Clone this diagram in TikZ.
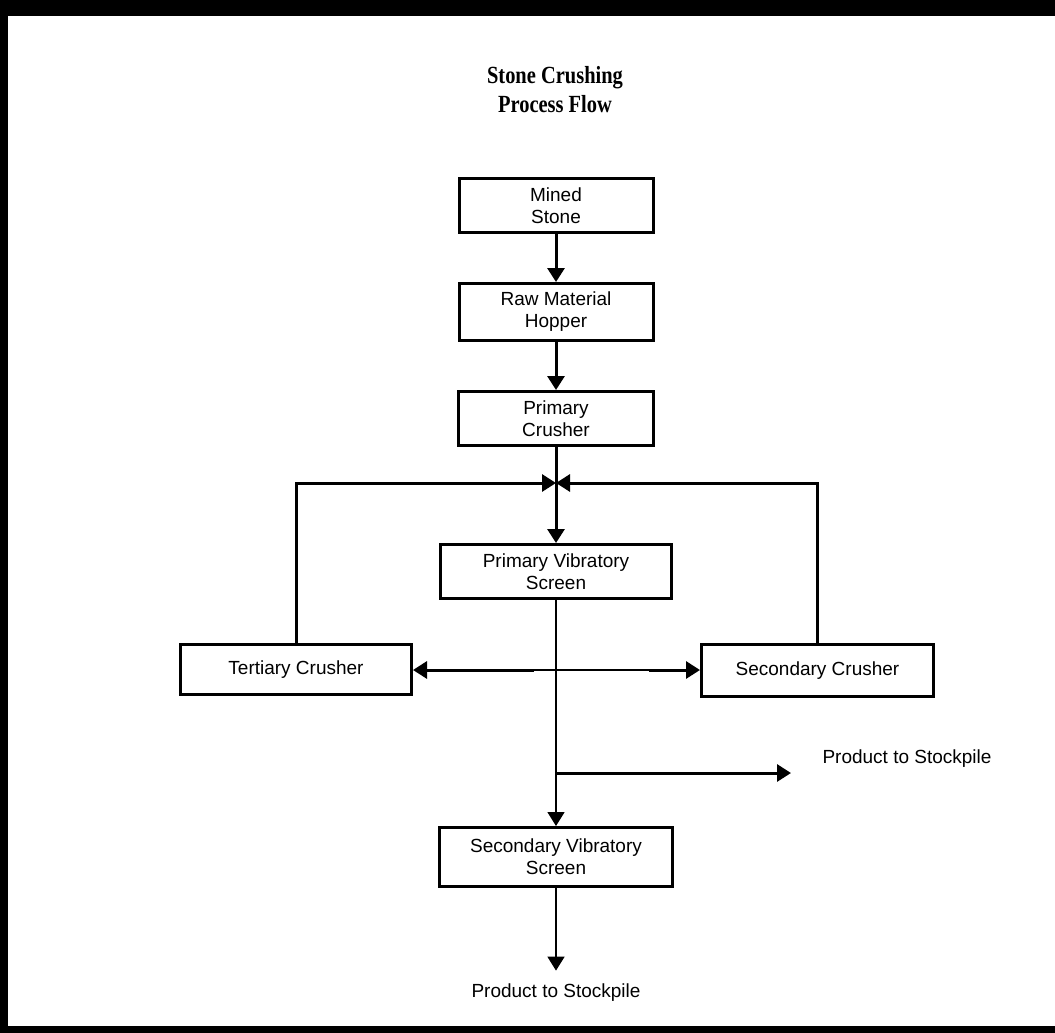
\documentclass[tikz,border=0pt]{standalone}
\usepackage{fontspec}
\setmainfont{Liberation Sans}
\newfontfamily\titlefont{Liberation Serif}
\usetikzlibrary{arrows.meta,positioning}

\begin{document}
\begin{tikzpicture}[x=1pt,y=-1pt,
  box/.style={draw,line width=3pt,align=center,inner sep=0pt,font=\fontsize{19}{22}\selectfont},
  lbl/.style={font=\fontsize{19}{22}\selectfont},
  flow/.style={line width=3pt,-{Triangle[width=17pt,length=14pt]}},
  thinflow/.style={line width=1.6pt,-{Triangle[width=17pt,length=14pt]}}]
\useasboundingbox (0,0) rectangle (1055,1033);
\fill (0,0) rectangle (1055,16);
\fill (0,0) rectangle (8,1033);
\fill (0,1026) rectangle (1055,1033);

\node[align=center,xscale=0.93,yscale=1.12,font=\titlefont\bfseries\fontsize{22}{26}\selectfont] (title) at (555,90) {Stone Crushing\\Process Flow};

\node[box,minimum width=194pt,minimum height=54pt] (mined) at (556,205.5) {Mined\\Stone};
\node[box,minimum width=194pt,minimum height=57pt] (hopper) at (556,312) {Raw Material\\Hopper};
\node[box,minimum width=195pt,minimum height=54pt] (primary) at (556,418.5) {Primary\\Crusher};
\node[box,minimum width=231pt,minimum height=54pt] (pvs) at (556,571.5) {Primary Vibratory\\Screen};
\node[box,minimum width=231pt,minimum height=50pt] (tertiary) at (296,669.5) {Tertiary Crusher};
\node[box,minimum width=232pt,minimum height=52pt] (secondary) at (817.5,670.5) {Secondary Crusher};
\node[box,minimum width=233pt,minimum height=59pt] (svs) at (556,857) {Secondary Vibratory\\Screen};
\node[lbl] (outR) at (907,759) {Product to Stockpile};
\node[lbl] (outB) at (556,993) {Product to Stockpile};

\coordinate (jn) at (556,483);
\coordinate (tl) at (534,670);
\coordinate (tr) at (649,670);
\coordinate (br) at (556,773);
\coordinate (rtip) at (791,773);

\draw[flow] (mined) -- (hopper);
\draw[flow] (hopper) -- (primary);
\draw[line width=3pt] (primary) -- (jn);
\draw[flow] (jn) -- (pvs);
\draw[flow] (tertiary.north) |- (jn);
\draw[flow] (secondary.north) |- (jn);
\draw[thinflow] (pvs) -- (svs);
\draw[flow] (tl) -- (tertiary.east |- tl);
\draw[line width=1.6pt] (tl) -- (tr);
\draw[flow] (tr) -- (secondary.west |- tr);
\draw[flow] (br) -- (rtip);
\draw[thinflow,shorten >=10pt] (svs) -- (outB);
\end{tikzpicture}
\end{document}
